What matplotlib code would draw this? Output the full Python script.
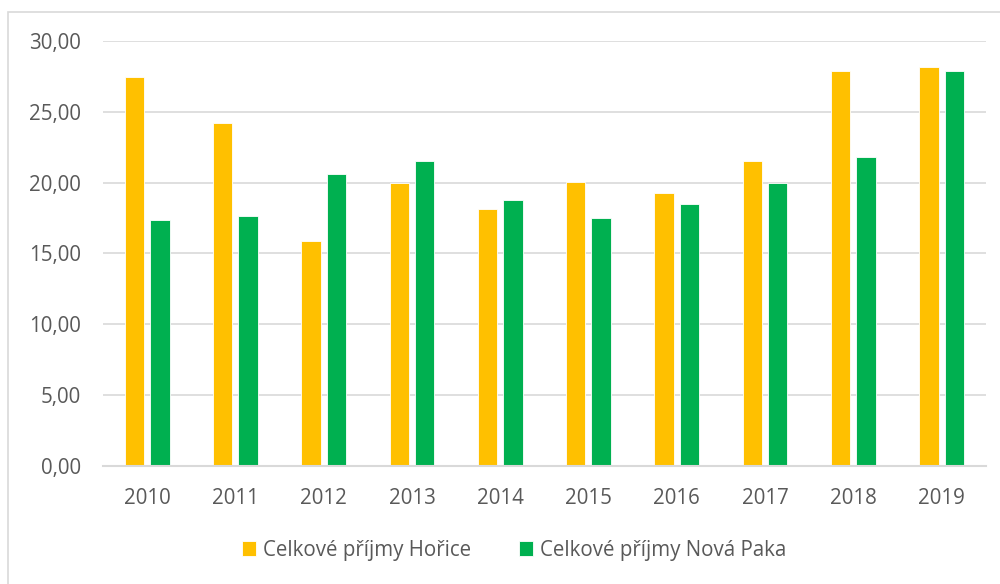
import matplotlib
matplotlib.use("Agg")
import matplotlib.pyplot as plt
import numpy as np
from matplotlib.patches import Rectangle

# data
years = ["2010", "2011", "2012", "2013", "2014", "2015", "2016", "2017", "2018", "2019"]
horice = [27.47, 24.22, 15.89, 19.96, 18.17, 20.03, 19.28, 21.56, 27.90, 28.15]
nova_paka = [17.37, 17.63, 20.62, 21.54, 18.79, 17.54, 18.50, 19.99, 21.80, 27.87]
series_names = ["Celkové příjmy Hořice", "Celkové příjmy Nová Paka"]

plt.rcParams['font.family'] = ['Open Sans', 'DejaVu Sans']
text_col = "#595959"
grid_col = "#D9D9D9"
fs = 14.8

fig = plt.figure(figsize=(10, 5.84), dpi=100)
ax = fig.add_axes([0.103, 0.2021, 0.8827, 0.7277])

x = np.arange(len(years))
w = 0.22
off = 0.144
b1 = ax.bar(x - off, horice, w, color="#FFC000", edgecolor="white", linewidth=0.6, zorder=3)
b2 = ax.bar(x + off, nova_paka, w, color="#00B050", edgecolor="white", linewidth=0.6, zorder=3)

ax.set_xlim(-0.5, len(years) - 0.5)
ax.set_ylim(0, 30)
ax.set_yticks(np.arange(0, 31, 5))
ax.set_yticklabels([f"{v:.2f}".replace(".", ",") for v in np.arange(0, 31, 5)])
ax.set_xticks(x)
ax.set_xticklabels(years)
ax.tick_params(axis="both", length=0, labelsize=fs, colors=text_col)
ax.tick_params(axis="y", pad=16)
ax.tick_params(axis="x", pad=16)

ax.grid(axis="y", color=grid_col, linewidth=1.2, zorder=0)
for s in ["top", "right", "left"]:
    ax.spines[s].set_visible(False)
ax.spines["bottom"].set_color(grid_col)
ax.spines["bottom"].set_linewidth(1.5)
ax.spines["bottom"].set_zorder(4)

# chart area border
fig.patches.append(Rectangle((0.008, -0.1), 1.2, 1.1 - 12 / 584, transform=fig.transFigure,
                             fill=False, edgecolor=grid_col, linewidth=1.2))

fig.legend([b1, b2], series_names, loc="center", bbox_to_anchor=(0.514, 0.058), ncol=2,
           frameon=False, fontsize=fs, labelcolor=text_col, handlelength=0.7, handleheight=0.7,
           handletextpad=0.35, columnspacing=2.3)

fig.savefig("out.png", dpi=100)
